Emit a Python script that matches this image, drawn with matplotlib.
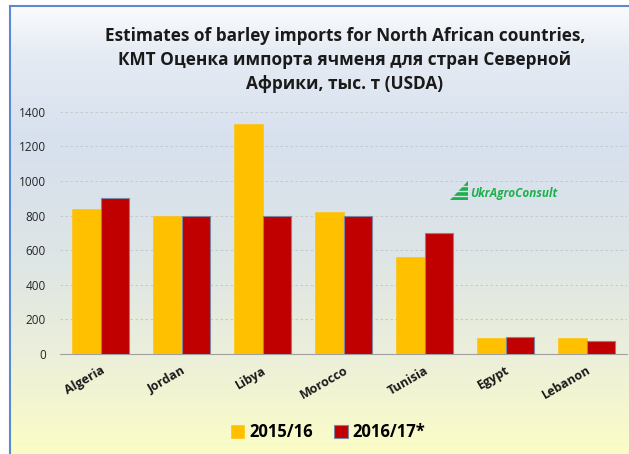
import matplotlib
matplotlib.use("Agg")
import matplotlib.pyplot as plt
import numpy as np
from matplotlib.colors import LinearSegmentedColormap
from matplotlib.patches import Polygon

countries = ["Algeria", "Jordan", "Libya", "Morocco", "Tunisia", "Egypt", "Lebanon"]
imports_2015 = [840, 800, 1330, 820, 560, 95, 90]
imports_2016 = [900, 800, 800, 800, 700, 100, 75]
series_names = ["2015/16", "2016/17*"]
title = ("Estimates of barley imports for North African countries,\n"
         "КМТ Оценка импорта ячменя для стран Северной\n"
         "Африки, тыс. т (USDA)")

plt.rcParams['font.family'] = ['Open Sans', 'DejaVu Sans']

fig = plt.figure(figsize=(6.29, 4.54), dpi=100)

# background gradient panel with a blue frame
bg = fig.add_axes([10 / 629, 0, 1 - 10 / 629, 1 - 6 / 454])
cmap = LinearSegmentedColormap.from_list(
    "bg", [(0.0, "#fbfdc6"), (0.22, "#ecefda"), (0.45, "#dde5e6"),
           (0.7, "#d7e0ee"), (0.9, "#e6ecf4"), (1.0, "#fafbfd")])
grad = np.linspace(0, 1, 256).reshape(-1, 1)
bg.imshow(grad, aspect="auto", cmap=cmap, origin="lower", extent=[0, 1, 0, 1])
bg.set_xlim(0, 1)
bg.set_ylim(0, 1)
bg.set_xticks([])
bg.set_yticks([])
for side in ["right", "bottom"]:
    bg.spines[side].set_visible(False)
for side in ["left", "top"]:
    bg.spines[side].set_color("#5b8ad0")
    bg.spines[side].set_linewidth(1.5)

ax = fig.add_axes([60 / 629, 100 / 454, 567 / 629, 242.3 / 454])
ax.patch.set_alpha(0)
x = np.arange(len(countries))
w = 0.35
ax.bar(x - w / 2, imports_2015, w, color="#ffc000", edgecolor="#ffc000",
       linewidth=0.4, label=series_names[0], zorder=3)
ax.bar(x + w / 2, imports_2016, w, color="#c00000", edgecolor="#7f86a0",
       linewidth=0.8, label=series_names[1], zorder=3)
ax.set_xlim(-0.5, len(countries) - 0.5)
ax.set_ylim(0, 1400)
ax.set_yticks(range(0, 1401, 200))
ax.grid(axis="y", color="#c0c4cc", linestyle=(0, (3, 3)), linewidth=0.6, zorder=0)
ax.set_xticks(x)
ax.set_xticklabels(countries, rotation=30, fontweight="bold", fontsize=9,
                   color="#1a1a1a", ha="right", rotation_mode="anchor")
ax.tick_params(axis="y", length=0, labelsize=8.5, labelcolor="#262626", pad=10)
ax.tick_params(axis="x", length=0, pad=7)
for side in ["left", "right", "top"]:
    ax.spines[side].set_visible(False)
ax.spines["bottom"].set_color("#a0a0a0")

fig.text(345 / 629, 1 - 93 / 454, title, ha="center", va="bottom", fontsize=12.4,
         fontweight="bold", color="#1a1a1a", linespacing=1.42)

leg = fig.legend(loc="center", bbox_to_anchor=(328 / 629, 1 - 432 / 454),
                 ncol=2, frameon=False, handlelength=0.8, handleheight=0.8,
                 handletextpad=0.3, columnspacing=1.3,
                 prop={"weight": "bold", "size": 12})

# logo
fig.text(470 / 629, 1 - 193 / 454, "UkrAgroConsult", ha="left", va="center",
         fontsize=8.5, fontweight="bold", style="italic", color="#1db04b")
tri = Polygon([[450 / 629, 1 - 200 / 454], [468 / 629, 1 - 200 / 454],
               [468 / 629, 1 - 181 / 454]], closed=True, transform=fig.transFigure,
              facecolor="#1db04b", edgecolor="none")
fig.patches.append(tri)
for yy in [186, 191, 196]:
    fig.lines.append(plt.Line2D([448 / 629, 468 / 629], [1 - yy / 454, 1 - yy / 454],
                                transform=fig.transFigure, color="#dbe3ec",
                                linewidth=1.0))

fig.savefig("out.png", dpi=100)
